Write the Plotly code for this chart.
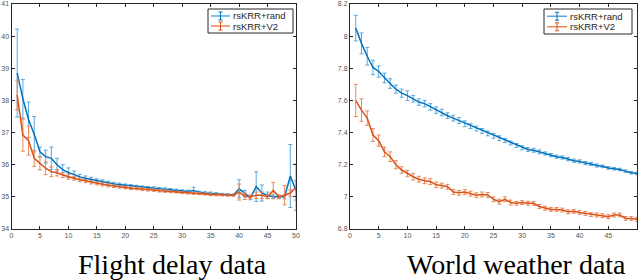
import plotly.graph_objects as go

x = list(range(1, 51))

# Flight delay data
flight_rand = [38.85, 38.05, 37.4, 36.95, 36.4, 36.25, 36.2, 36.0, 35.85, 35.75,
               35.7, 35.62, 35.58, 35.55, 35.5, 35.47, 35.44, 35.4, 35.38, 35.35,
               35.33, 35.31, 35.29, 35.28, 35.27, 35.25, 35.24, 35.22, 35.2, 35.18,
               35.17, 35.2, 35.14, 35.12, 35.11, 35.1, 35.08, 35.07, 35.06, 35.25,
               35.1, 34.97, 35.32, 35.12, 35.05, 35.0, 35.0, 35.0, 35.65, 35.2]
flight_rand_err = [1.37, 0.6, 0.55, 0.55, 0.15, 0.2, 0.35, 0.2, 0.15, 0.15,
                   0.1, 0.08, 0.07, 0.06, 0.06, 0.06, 0.05, 0.05, 0.05, 0.05,
                   0.05, 0.05, 0.05, 0.04, 0.04, 0.04, 0.04, 0.04, 0.04, 0.04,
                   0.04, 0.1, 0.04, 0.04, 0.04, 0.03, 0.03, 0.03, 0.03, 0.28,
                   0.1, 0.06, 0.46, 0.25, 0.1, 0.06, 0.05, 0.06, 0.98, 0.3]
flight_v2 = [38.17, 36.92, 36.75, 36.2, 36.04, 35.89, 35.78, 35.75, 35.68, 35.62,
             35.58, 35.53, 35.49, 35.45, 35.42, 35.39, 35.36, 35.33, 35.31, 35.29,
             35.27, 35.26, 35.24, 35.22, 35.21, 35.19, 35.18, 35.16, 35.15, 35.13,
             35.12, 35.11, 35.1, 35.09, 35.07, 35.06, 35.06, 35.05, 35.05, 35.15,
             35.02, 35.0, 35.05, 35.05, 35.0, 35.2, 35.0, 35.05, 35.12, 35.3]
flight_v2_err = [0.46, 0.5, 0.45, 0.25, 0.2, 0.2, 0.15, 0.1, 0.08, 0.07,
                 0.06, 0.06, 0.05, 0.05, 0.05, 0.05, 0.05, 0.04, 0.04, 0.04,
                 0.04, 0.04, 0.04, 0.04, 0.04, 0.04, 0.04, 0.03, 0.03, 0.03,
                 0.03, 0.03, 0.03, 0.03, 0.03, 0.03, 0.03, 0.03, 0.03, 0.25,
                 0.1, 0.06, 0.1, 0.1, 0.06, 0.25, 0.06, 0.3, 0.1, 0.72]

# World weather data
weather_rand = [8.05, 7.955, 7.875, 7.805, 7.78, 7.74, 7.705, 7.67, 7.645, 7.63,
                7.61, 7.59, 7.58, 7.56, 7.54, 7.525, 7.505, 7.49, 7.475, 7.455,
                7.44, 7.425, 7.41, 7.395, 7.38, 7.365, 7.35, 7.335, 7.32, 7.305,
                7.295, 7.29, 7.28, 7.27, 7.26, 7.25, 7.245, 7.235, 7.225, 7.22,
                7.21, 7.205, 7.195, 7.19, 7.18, 7.175, 7.17, 7.16, 7.15, 7.145]
weather_rand_err = [0.08, 0.065, 0.055, 0.045, 0.035, 0.03, 0.03, 0.025, 0.025, 0.03,
                    0.02, 0.02, 0.02, 0.02, 0.02, 0.02, 0.018, 0.018, 0.018, 0.018,
                    0.015, 0.015, 0.015, 0.015, 0.015, 0.015, 0.012, 0.012, 0.012, 0.012,
                    0.012, 0.012, 0.012, 0.01, 0.01, 0.01, 0.01, 0.01, 0.01, 0.01,
                    0.01, 0.01, 0.01, 0.008, 0.008, 0.008, 0.008, 0.008, 0.008, 0.008]
weather_v2 = [7.60, 7.54, 7.49, 7.385, 7.35, 7.28, 7.25, 7.2, 7.167, 7.145,
              7.125, 7.11, 7.1, 7.095, 7.075, 7.07, 7.063, 7.03, 7.025, 7.03,
              7.02, 7.01, 7.015, 7.012, 6.985, 6.97, 6.985, 6.965, 6.96, 6.965,
              6.96, 6.96, 6.94, 6.93, 6.922, 6.922, 6.918, 6.907, 6.91, 6.903,
              6.897, 6.89, 6.887, 6.883, 6.877, 6.887, 6.887, 6.866, 6.866, 6.86]
weather_v2_err = [0.1, 0.07, 0.045, 0.04, 0.035, 0.03, 0.03, 0.025, 0.02, 0.02,
                  0.02, 0.018, 0.018, 0.018, 0.018, 0.015, 0.015, 0.015, 0.015, 0.015,
                  0.015, 0.015, 0.015, 0.015, 0.015, 0.015, 0.015, 0.015, 0.012, 0.012,
                  0.012, 0.012, 0.012, 0.012, 0.012, 0.012, 0.012, 0.012, 0.012, 0.012,
                  0.012, 0.012, 0.012, 0.012, 0.012, 0.012, 0.012, 0.012, 0.012, 0.012]

series_names = ["rsKRR+rand", "rsKRR+V2"]
captions = ["Flight delay data", "World weather data"]
x_ticks = list(range(0, 51, 5))
left_y_ticks = [34, 35, 36, 37, 38, 39, 40, 41]
right_y_ticks = [6.8, 7, 7.2, 7.4, 7.6, 7.8, 8, 8.2]
right_y_labels = ["6.8", "7", "7.2", "7.4", "7.6", "7.8", "8", "8.2"]

BLUE = "#0072BD"
BLUE_ERR = "#5aa9de"
ORANGE = "#D95319"
ORANGE_ERR = "#ea8757"
AXC = "#262626"

W, H = 640, 280
px = lambda v: v / W
py = lambda v: 1 - v / H

fig = go.Figure()

def add(xa, ya, y, err, name, color, ecolor):
    fig.add_trace(go.Scatter(
        x=x, y=y, name=name, mode="lines", xaxis=xa, yaxis=ya,
        line=dict(color=color, width=1.5),
        error_y=dict(type="data", array=err, visible=True, color=ecolor,
                     thickness=1, width=2),
        showlegend=False, hoverinfo="skip",
    ))

add("x", "y", flight_rand, flight_rand_err, series_names[0], BLUE, BLUE_ERR)
add("x", "y", flight_v2, flight_v2_err, series_names[1], ORANGE, ORANGE_ERR)
add("x2", "y2", weather_rand, weather_rand_err, series_names[0], BLUE, BLUE_ERR)
add("x2", "y2", weather_v2, weather_v2_err, series_names[1], ORANGE, ORANGE_ERR)

ydom = [py(229), py(4)]
axcommon = dict(showgrid=False, zeroline=False, showline=True, linecolor=AXC,
                linewidth=1, mirror="ticks", ticks="inside", ticklen=3,
                tickcolor=AXC, automargin=False,
                tickfont=dict(family="Liberation Sans, Arial", size=7, color="#555555"))

shapes = []
annotations = []

def legend_box(x0, x1, y0, y1, text_x):
    shapes.append(dict(type="rect", xref="paper", yref="paper",
                       x0=px(x0), x1=px(x1), y0=py(y0), y1=py(y1),
                       line=dict(color=AXC, width=1), fillcolor="white", layer="above"))
    rows = [(y0 + (y1 - y0) * 0.29, BLUE, BLUE_ERR, series_names[0]),
            (y0 + (y1 - y0) * 0.71, ORANGE, ORANGE_ERR, series_names[1])]
    for yy, c, ec, name in rows:
        shapes.append(dict(type="line", xref="paper", yref="paper",
                           x0=px(x0 + 3), x1=px(text_x - 2), y0=py(yy), y1=py(yy),
                           line=dict(color=ec, width=1.5), layer="above"))
        xm = (x0 + 3 + text_x - 2) / 2
        shapes.append(dict(type="line", xref="paper", yref="paper",
                           x0=px(xm), x1=px(xm), y0=py(yy - 4), y1=py(yy + 4),
                           line=dict(color=c, width=1), layer="above"))
        for dy in (-4, 4):
            shapes.append(dict(type="line", xref="paper", yref="paper",
                               x0=px(xm - 2), x1=px(xm + 2), y0=py(yy + dy), y1=py(yy + dy),
                               line=dict(color=c, width=1), layer="above"))
        annotations.append(dict(text=name, x=px(text_x), y=py(yy), xref="paper", yref="paper",
                                showarrow=False, xanchor="left", yanchor="middle",
                                xshift=-1,
                                font=dict(family="Liberation Sans, Arial", size=9.5,
                                          color=AXC)))

legend_box(208, 293, 9, 33, 232)
legend_box(544, 632, 9, 34, 569)

for cap, cx in zip(captions, [172, 516]):
    annotations.append(dict(text=cap, x=px(cx), y=py(264), xref="paper", yref="paper",
                            showarrow=False, xanchor="center", yanchor="middle",
                            font=dict(family="Liberation Serif, Times New Roman", size=28,
                                      color="black")))

fig.update_layout(
    width=W, height=H, margin=dict(l=0, r=0, t=0, b=0, autoexpand=False),
    paper_bgcolor="white", plot_bgcolor="white", showlegend=False,
    hovermode=False,
    xaxis=dict(domain=[px(11.5), px(296)], range=[0, 50], tickvals=x_ticks,
               anchor="y", **axcommon),
    yaxis=dict(domain=ydom, range=[34, 41], tickvals=left_y_ticks, anchor="x",
               **axcommon),
    xaxis2=dict(domain=[px(350), px(637)], range=[0, 50], tickvals=x_ticks,
                anchor="y2", **axcommon),
    yaxis2=dict(domain=ydom, range=[6.8, 8.2], tickvals=right_y_ticks,
                ticktext=right_y_labels, anchor="x2", **axcommon),
    shapes=shapes,
    annotations=annotations,
)

# remove the browser's default 8px body margin so the 640x280 figure fills the window
fig.write_html("out.html", config={"displayModeBar": False},
               post_script="document.body.style.margin='0';")
